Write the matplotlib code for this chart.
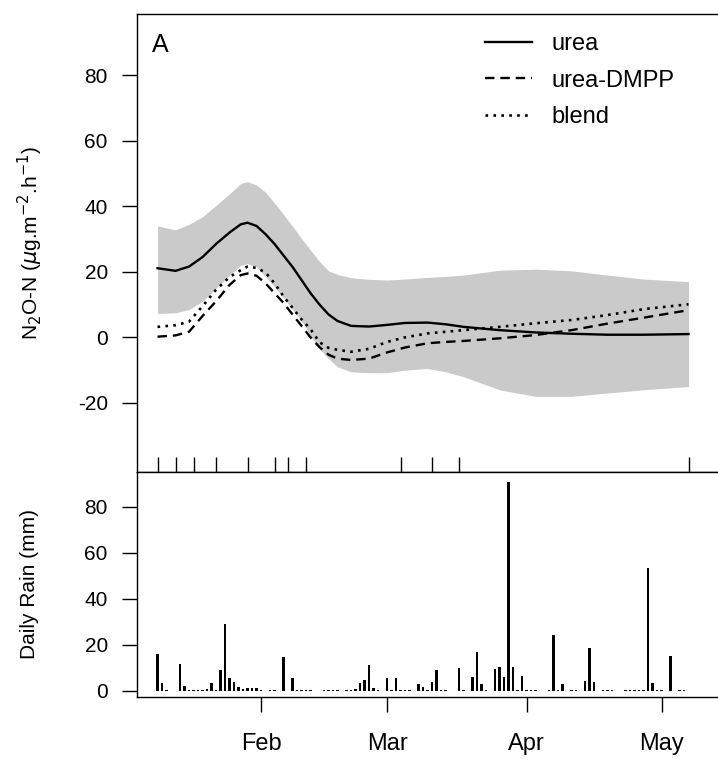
import matplotlib
matplotlib.use('Agg')
import matplotlib.pyplot as plt

plt.rcParams['font.family'] = ['Liberation Sans', 'DejaVu Sans']
plt.rcParams['axes.unicode_minus'] = False

# days counted from 1 Jan (Feb 1 = 31)
grid_days = [8, 12, 15, 18, 21, 24, 26.5, 28, 30, 32, 34, 36, 38, 40, 42, 44, 46, 48,
             51, 55, 59, 63, 68, 72, 76, 84, 92, 100, 108, 116, 126]
urea = [21.1, 20.3, 21.6, 24.5, 28.5, 32.0, 34.5, 35.0, 34.0, 31.5, 28.5, 25.0, 21.5,
        17.5, 13.5, 10.0, 7.0, 5.0, 3.5, 3.3, 3.8, 4.4, 4.5, 4.0, 3.2, 2.2, 1.5, 1.1,
        0.8, 0.8, 1.0]
band_hi = [34.0, 32.8, 34.5, 36.8, 40.3, 43.8, 47.0, 47.5, 46.5, 44.3, 41.0, 37.5, 33.9,
           30.2, 26.6, 23.2, 20.3, 19.2, 18.2, 17.7, 17.5, 17.8, 18.3, 18.6, 19.0, 20.5,
           20.8, 20.3, 19.0, 17.8, 17.0]
band_lo = [7.3, 7.5, 8.5, 11.0, 15.0, 19.0, 22.0, 22.5, 21.5, 18.5, 15.5, 12.0, 8.5, 5.0,
           0.5, -3.5, -6.5, -9.0, -10.5, -10.8, -10.8, -10.0, -9.5, -10.5, -12.0, -16.0,
           -18.0, -18.0, -17.0, -16.0, -15.0]
urea_dmpp = [0.2, 0.6, 1.7, 6.5, 11.0, 16.0, 19.0, 19.5, 18.8, 16.5, 13.5, 10.5, 7.0, 3.5,
             0.0, -3.0, -5.3, -6.5, -6.9, -6.5, -4.6, -3.1, -1.8, -1.4, -1.1, -0.3, 0.7,
             2.2, 4.2, 6.0, 8.3]
blend = [3.2, 3.7, 4.8, 9.5, 14.5, 18.4, 20.5, 21.6, 21.2, 19.8, 16.5, 12.5, 9.0, 5.5,
         2.5, -1.5, -3.2, -3.8, -4.4, -3.5, -1.4, 0.0, 1.2, 1.7, 2.2, 3.2, 4.3, 5.3, 6.8,
         8.6, 10.1]

# gas sampling days (rug marks)
sample_days = [8, 12, 16, 21, 28, 34, 37, 41, 62, 69, 75, 126]

rain_days = [8, 9, 10, 13, 14, 15, 16, 17, 18, 19, 20, 21, 22, 23, 24, 25, 26, 27, 28, 29,
             30, 31, 33, 34, 36, 38, 39, 40, 41, 42, 45, 46, 47, 48, 50, 51, 52, 53, 54,
             55, 56, 57, 59, 60, 61, 62, 63, 64, 66, 67, 68, 69, 70, 71, 72, 75, 76, 78,
             79, 80, 81, 83, 84, 85, 86, 87, 88, 89, 90, 91, 92, 95, 96, 97, 98, 100, 101,
             103, 104, 105, 107, 108, 109, 112, 113, 114, 115, 116, 117, 118, 119, 120,
             122, 124, 125]
rain_mm = [16, 3.2, 0.4, 11.6, 2.1, 0.4, 0.4, 0.4, 0.4, 0.6, 3.5, 0.4, 9, 29, 5.7, 4, 1.6,
           0.8, 1, 1.2, 1.2, 0.4, 0.4, 0.4, 14.8, 5.4, 0.4, 0.4, 0.4, 0.4, 0.4, 0.4, 0.4,
           0.4, 0.4, 0.4, 0.6, 3.5, 4.6, 11, 1.2, 0.4, 5.7, 0.4, 5.7, 0.4, 0.4, 0.4, 3, 1.8,
           0.4, 4, 9, 0.4, 0.4, 9.7, 0.4, 6, 17, 3, 0.4, 9.4, 10.4, 6, 90.5, 10.4, 0.4, 6.3,
           0.4, 0.4, 0.4, 0.4, 24.2, 0.4, 2.9, 0.4, 0.4, 4.3, 18.4, 3.9, 0.4, 0.4, 0.4, 0.4,
           0.4, 0.4, 0.4, 0.4, 53.5, 3.5, 0.4, 0.4, 15, 0.4, 0.4]

month_days = [31, 59, 90, 120]
month_labels = ['Feb', 'Mar', 'Apr', 'May']

W, H = 718, 759
fig = plt.figure(figsize=(W / 100, H / 100), dpi=100)
ax1 = fig.add_axes([137 / W, (H - 472) / H, 603 / W, 458 / H])
ax2 = fig.add_axes([137 / W, (H - 697) / H, 603 / W, 225 / H])
xlim = (3.44, 3.44 + 603 / 4.5)

# top panel: N2O fluxes
ax1.fill_between(grid_days, band_lo, band_hi, color='#cacaca', lw=0)
ax1.plot(grid_days, urea, color='k', lw=1.7, ls='-', label='urea')
ax1.plot(grid_days, urea_dmpp, color='k', lw=1.7, ls=(0, (4, 2.5)), label='urea-DMPP')
ax1.plot(grid_days, blend, color='k', lw=1.9, ls=(0, (1, 2)), label='blend')
ax1.vlines(sample_days, 0, 0.033, transform=ax1.get_xaxis_transform(), color='k', lw=1)
ax1.set_xlim(*xlim)
ax1.set_ylim(-41.1, 98.7)
ax1.set_yticks([-20, 0, 20, 40, 60, 80])
ax1.tick_params(axis='x', length=0, labelbottom=False)
ax1.tick_params(axis='y', direction='out', length=11, width=1, pad=10, labelsize=15)
ax1.spines['right'].set_visible(False)
for s in ax1.spines.values():
    s.set_linewidth(1)

ax1.legend(loc='upper left', bbox_to_anchor=(485 / W, 1 - 33 / H),
           bbox_transform=fig.transFigure, frameon=False, fontsize=17,
           handlelength=2.0, handletextpad=0.8, labelspacing=0.62,
           borderpad=0, borderaxespad=0)
fig.text(160 / W, 1 - 45 / H, 'A', ha='center', va='center', fontsize=18)

# bottom panel: daily rain
ax2.bar(rain_days, rain_mm, width=0.55, color='k', lw=0)
ax2.set_xlim(*xlim)
ax2.set_ylim(-2.7, 95)
ax2.set_yticks([0, 20, 40, 60, 80])
ax2.set_xticks(month_days)
ax2.set_xticklabels(month_labels)
ax2.tick_params(axis='y', direction='out', length=11, width=1, pad=10, labelsize=15)
ax2.tick_params(axis='x', direction='out', length=11, width=1, pad=15, labelsize=17)
ax2.spines['right'].set_visible(False)
for s in ax2.spines.values():
    s.set_linewidth(1)

fig.text(30 / W, 1 - 243 / H, r'N$_2$O-N ($\mu$g.m$^{-2}$.h$^{-1}$)', rotation=90,
         ha='center', va='center', fontsize=15)
fig.text(30 / W, 1 - 584 / H, 'Daily Rain (mm)', rotation=90,
         ha='center', va='center', fontsize=15)

fig.savefig('out.png', dpi=100)
